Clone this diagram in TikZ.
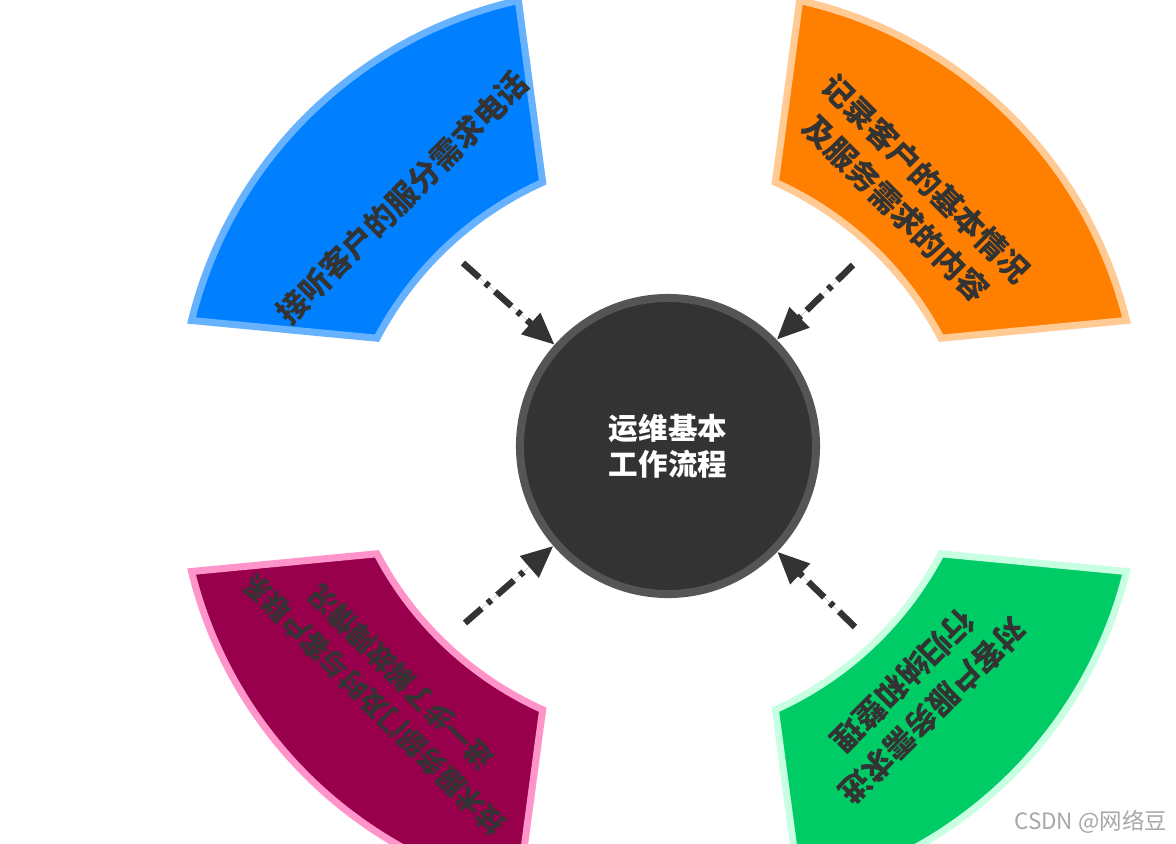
\documentclass[tikz,border=0pt]{standalone}
\usepackage{fontspec}
\setmainfont{Noto Sans CJK SC}
\usepackage{tikz}
\usepackage{xcolor}
\usetikzlibrary{arrows.meta,positioning,calc}
\definecolor{ink}{HTML}{333333}
\definecolor{hubedge}{HTML}{555555}
\definecolor{wmgray}{HTML}{A8A8A8}
\definecolor{fillblue}{HTML}{0080FF}
\definecolor{edgeblue}{HTML}{66B2FF}
\definecolor{fillorange}{HTML}{FF8000}
\definecolor{edgeorange}{HTML}{FFCA94}
\definecolor{fillmaroon}{HTML}{99004C}
\definecolor{edgemaroon}{HTML}{FF94CB}
\definecolor{fillgreen}{HTML}{00CC66}
\definecolor{edgegreen}{HTML}{C8FFE3}
\tikzset{
  petal/.style={line width=0.175cm,line join=miter},
  petaltext/.style={text=ink,align=center,inner sep=0pt,
                    font=\bfseries\fontsize{22}{30}\selectfont},
  hub/.style={circle,draw=hubedge,fill=ink,line width=0.2cm,
              minimum size=7.4cm,inner sep=0pt,text=white,align=center,
              font=\bfseries\fontsize{21}{26}\selectfont},
  flowarr/.style={-{Triangle[length=0.8cm,width=0.68cm]},draw=ink,fill=ink,
                  line width=0.16cm,
                  dash pattern=on 0.55cm off 0.2cm on 0.12cm off 0.2cm}
}

\begin{document}
\begin{tikzpicture}[x=0.025cm,y=0.025cm,>=Latex]
  \useasboundingbox (-659,-397) rectangle (517,446);
  \clip (-659,-397) rectangle (517,446);
  \fill[white] (-659,-397) rectangle (517,446);
  \foreach \sx/\sy/\col in {1/1/blue,-1/1/orange,1/-1/maroon,-1/-1/green}{
    \begin{scope}[xscale=\sx,yscale=\sy]
      \draw[petal,draw=edge\col,fill=fill\col]
        ($(26.5,-54.2)+(152.3:348.5)$)
          arc[start angle=152.3,end angle=114.2,radius=348.5]
        -- ($(-46,22)+(102.6:434)$)
          arc[start angle=102.6,end angle=166.2,radius=434]
        -- cycle;
    \end{scope}
  }
  \node[petaltext,rotate=45] (answer) at (136:357) {接听客户的服分需求电话};
  \node[petaltext,rotate=-45] (record) at (45:357)
    {记录客户的基本情况\\及服务需求的内容};
  \node[petaltext,rotate=135,font=\bfseries\fontsize{19.5}{27}\selectfont]
    (contact) at (222:366) {技术服务部门及时与客户联系\\进一步了解故障情况};
  \node[petaltext,rotate=-135] (track) at (-44:360)
    {对客户服务需求进\\行归纳和整理};

  \node[hub] (hub) at (9,0) {运维基本\\工作流程};

  \coordinate (tailA) at (-196,183);
  \coordinate (tailB) at (194,181);
  \coordinate (tailC) at (-194,-177);
  \coordinate (tailD) at (196,-181);
  \draw[flowarr] (tailA) -- (hub);
  \draw[flowarr] (tailB) -- (hub);
  \draw[flowarr] (tailC) -- (hub);
  \draw[flowarr] (tailD) -- (hub);

  \node[anchor=east,text=wmgray,font=\fontsize{16}{16}\selectfont]
    (mark) at (513,-376) {CSDN @网络豆};
\end{tikzpicture}
\end{document}
